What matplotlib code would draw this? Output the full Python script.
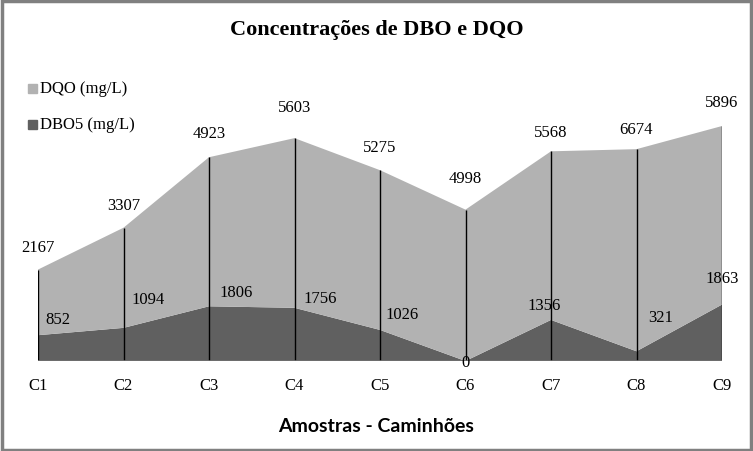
import matplotlib.pyplot as plt
import numpy as np
from matplotlib.patches import Rectangle

# dados do grafico
amostras = ["C1", "C2", "C3", "C4", "C5", "C6", "C7", "C8", "C9"]
dqo = [2167, 3307, 4923, 5603, 5275, 4998, 5568, 6674, 5896]
dbo5 = [852, 1094, 1806, 1756, 1026, 0, 1356, 321, 1863]

# deslocamentos dos rotulos (pixels), como no original
dqo_off = [(0, 14), (0, 14), (0, 15), (0, 22), (0, 14), (0, 23), (0, 10), (0, 11), (0, 15)]
dbo_off = [(20, 15), (25, 28), (27, 13), (26, 9), (22, 15), (0, -2), (-7, 14), (24, 33), (0, 26)]

cor_dqo = "#b2b2b2"
cor_dbo = "#606060"
serif = ["Liberation Serif", "DejaVu Serif"]

fig = plt.figure(figsize=(7.53, 4.51), dpi=100)
ax = fig.add_axes([38 / 753, 90 / 451, 684 / 753, (8000 / 33.02) / 451])

x = np.arange(len(amostras))
total = np.array(dqo) + np.array(dbo5)
ax.stackplot(x, dbo5, dqo, colors=[cor_dbo, cor_dqo], linewidth=0)
ax.vlines(x, 0, total, colors="black", linewidth=1)
ax.axhline(0, color="#707070", linewidth=1.2)

for i in range(len(x)):
    ax.annotate(str(dqo[i]), (x[i], total[i]), xytext=dqo_off[i], textcoords="offset pixels",
                ha="center", va="bottom", fontsize=12, family=serif, annotation_clip=False)
    ax.annotate(str(dbo5[i]), (x[i], dbo5[i]), xytext=dbo_off[i], textcoords="offset pixels",
                ha="center", va="center", fontsize=12, family=serif, annotation_clip=False)

ax.set_xlim(0, len(x) - 1)
ax.set_ylim(0, 8000)
ax.set_xticks(x)
ax.set_xticklabels(amostras, family=serif, fontsize=12)
ax.tick_params(axis="x", length=0, pad=12)
ax.set_yticks([])
for s in ax.spines.values():
    s.set_visible(False)
ax.patch.set_visible(False)

fig.text(0.5, 1 - 30 / 451, "Concentrações de DBO e DQO", ha="center", va="center",
         fontsize=16, fontweight="bold", family=serif)
fig.text(0.5, 1 - 426 / 451, "Amostras - Caminhões", ha="center", va="center",
         fontsize=14, fontweight="bold", family=["Lato", "DejaVu Sans"])

# legenda
for yy, cor, txt in [(89, cor_dqo, "DQO (mg/L)"), (125, cor_dbo, "DBO5 (mg/L)")]:
    fig.patches.append(Rectangle((28 / 753, 1 - (yy + 4) / 451), 9 / 753, 9 / 451,
                                 transform=fig.transFigure, color=cor))
    fig.text(40 / 753, 1 - yy / 451, txt, ha="left", va="center", fontsize=12, family=serif)

fig.patches.append(Rectangle((0.002, 0.003), 0.995, 0.994, transform=fig.transFigure,
                             fill=False, edgecolor="#808080", linewidth=2.5))

fig.savefig("out.png", dpi=100)
